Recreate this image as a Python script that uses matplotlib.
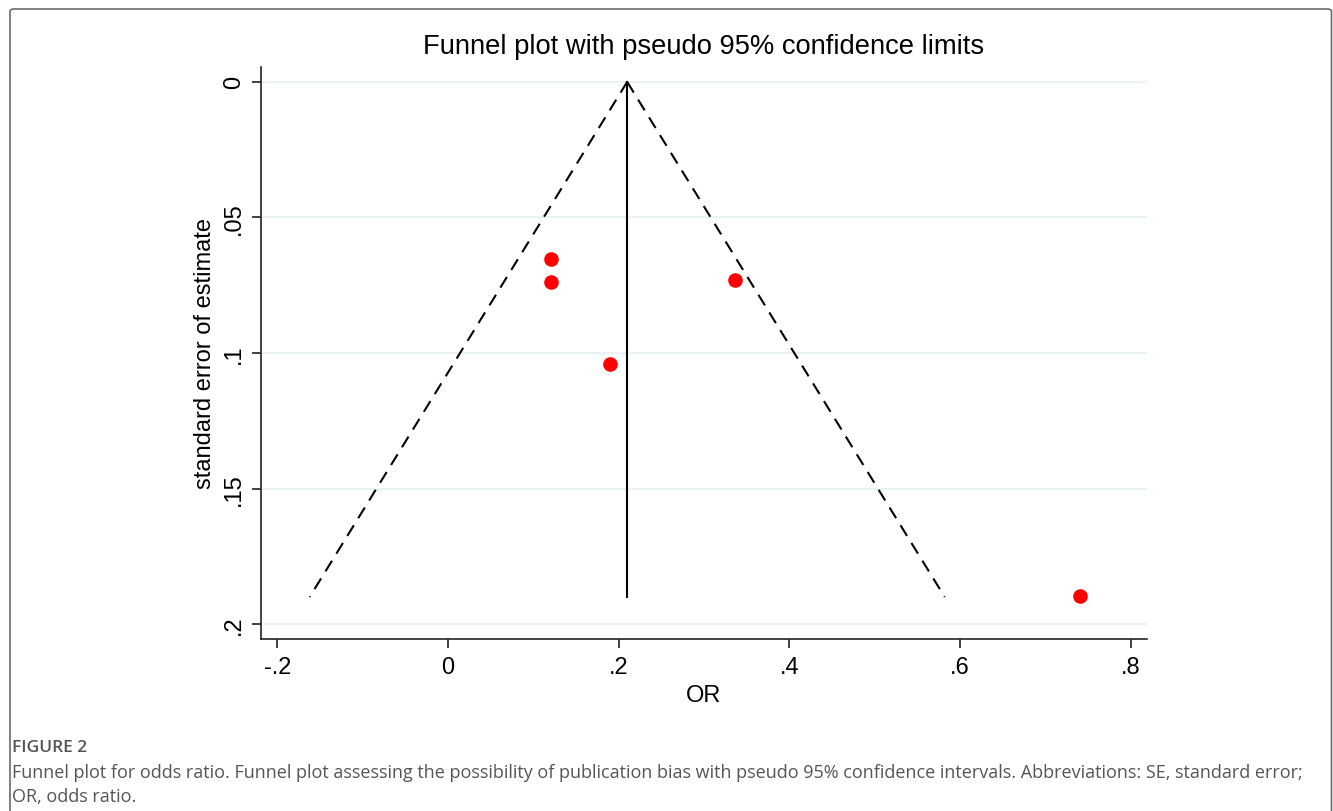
import matplotlib
matplotlib.use("Agg")
import matplotlib.pyplot as plt
from matplotlib.patches import FancyBboxPatch

plt.rcParams["font.family"] = ["Liberation Sans", "DejaVu Sans"]

# study estimates (OR) and their standard errors
study_or = [0.121, 0.121, 0.190, 0.336, 0.740]
study_se = [0.0653, 0.0738, 0.1040, 0.0730, 0.1895]

# pooled estimate line and pseudo 95% limits
pooled_x = [0.21, 0.21]
pooled_se = [0.0, 0.19]
funnel_se = [0.0, 0.19]
funnel_lower = [0.21, -0.162]
funnel_upper = [0.21, 0.582]

x_ticks = [-0.2, 0, 0.2, 0.4, 0.6, 0.8]
x_labels = ["-.2", "0", ".2", ".4", ".6", ".8"]
y_ticks = [0, 0.05, 0.1, 0.15, 0.2]
y_labels = ["0", ".05", ".1", ".15", ".2"]

W, H = 1333, 812
fig = plt.figure(figsize=(W / 100, H / 100), dpi=100)

# border frame
frame = FancyBboxPatch((10 / W, -0.05), 1321.5 / W, 802 / H + 0.05,
                       boxstyle="round,pad=0,rounding_size=0.003",
                       transform=fig.transFigure, fill=False,
                       edgecolor="#6b6b6b", linewidth=1.2)
fig.patches.append(frame)

ax = fig.add_axes([261 / W, 1 - 640 / H, (1147 - 261) / W, (640 - 68) / H])

for y in y_ticks:
    ax.axhline(y, color="#eaf2f3", linewidth=1.5, zorder=0)

ax.plot(funnel_lower, funnel_se, color="black", linewidth=1.5,
        linestyle=(0, (6, 4)), zorder=2)
ax.plot(funnel_upper, funnel_se, color="black", linewidth=1.5,
        linestyle=(0, (6, 4)), zorder=2)
ax.plot(pooled_x, pooled_se, color="black", linewidth=1.5, zorder=2)
ax.plot(study_or, study_se, "o", color="#ff0000", markersize=10.5,
        markeredgewidth=0, zorder=3)

ax.set_xlim(-0.219, 0.819)
ax.set_ylim(0.2055, -0.0055)
ax.set_xticks(x_ticks)
ax.set_xticklabels(x_labels)
ax.set_yticks(y_ticks)
ax.set_yticklabels(y_labels, rotation=90, va="center")
ax.tick_params(direction="out", length=6.5, width=1.2, labelsize=17,
               color="#222222")
ax.tick_params(axis="x", pad=6)
ax.tick_params(axis="y", pad=5)

for side in ["top", "right"]:
    ax.spines[side].set_visible(False)
for side in ["left", "bottom"]:
    ax.spines[side].set_linewidth(1.2)
    ax.spines[side].set_color("#222222")

ax.set_xlabel("OR", fontsize=17, labelpad=4)
ax.set_ylabel("standard error of estimate", fontsize=17, labelpad=5)

fig.text(704 / W, 1 - 47 / H, "Funnel plot with pseudo 95% confidence limits",
         ha="center", va="center", fontsize=19.7)

cap_font = ["Open Sans", "DejaVu Sans"]
fig.text(12 / W, 1 - 748 / H, "FIGURE 2", ha="left", va="center",
         fontsize=12.5, color="#555555", fontweight="semibold", family=cap_font)
fig.text(12 / W, 1 - 773 / H,
         "Funnel plot for odds ratio. Funnel plot assessing the possibility of "
         "publication bias with pseudo 95% confidence intervals. Abbreviations: "
         "SE, standard error;",
         ha="left", va="center", fontsize=13, color="#555555", family=cap_font)
fig.text(12 / W, 1 - 797 / H, "OR, odds ratio.", ha="left", va="center",
         fontsize=13, color="#555555", family=cap_font)

fig.savefig("out.png", dpi=100)
